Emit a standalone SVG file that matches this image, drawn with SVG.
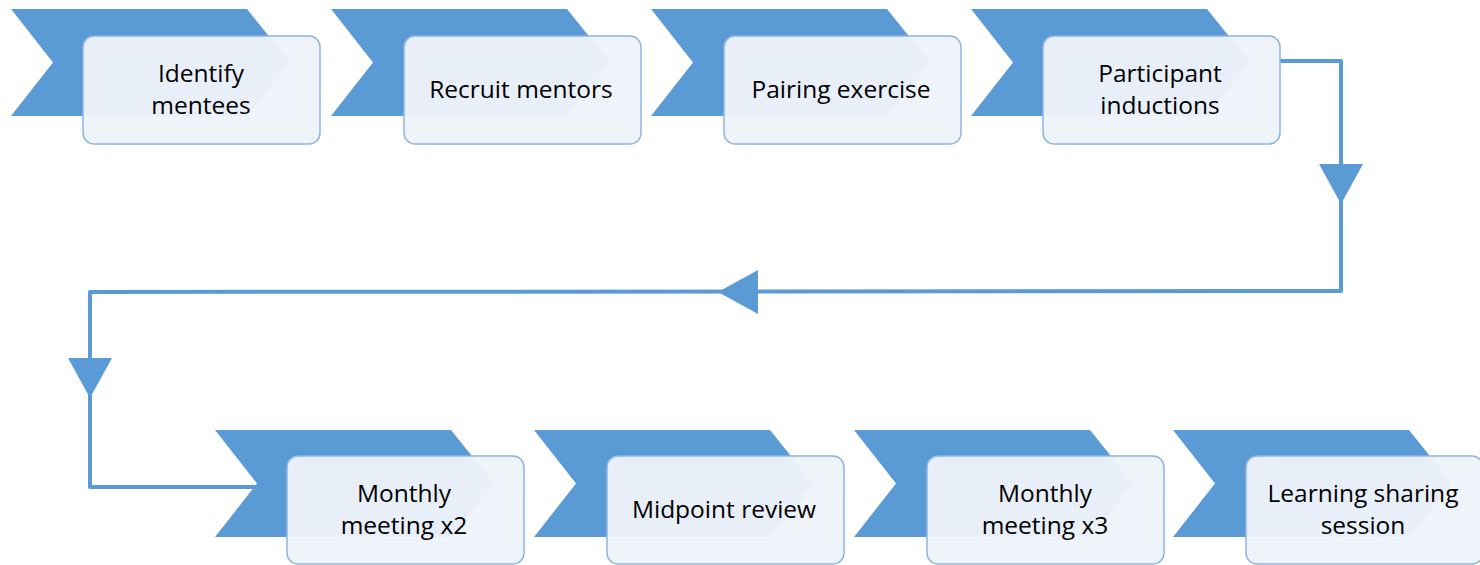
<svg xmlns="http://www.w3.org/2000/svg" xmlns:xlink="http://www.w3.org/1999/xlink" width="1480" height="565" viewBox="0 0 1480 565">
<style>
.chev{fill:#5B9BD5}
.box{fill:#EEF3FA;fill-opacity:0.96;stroke:#8DB5E2;stroke-width:1.5}
.lbl{font-family:"Open Sans","Liberation Sans",sans-serif;font-size:24.5px;fill:#000;text-anchor:middle}
.conn{fill:none;stroke:#5B9BD5;stroke-width:4;stroke-linejoin:round;stroke-linecap:round}
.arr{fill:#5B9BD5}
</style>
<defs>
<path id="chevron" d="M0,0 L236,0 L279,53.5 L236,107 L0,107 L42,53.5 Z"/>
<rect id="card" x="0" y="0" width="237" height="108" rx="11" ry="11"/>
<path id="arrowDown" d="M-22,0 L22,0 L0,40 Z"/>
</defs>
<rect width="1480" height="565" fill="#ffffff"/>
<g id="connectors">
<path class="conn" d="M1279,61 L1341,61 L1341,291 L90,292 L90,487 L255,487"/>
<use href="#arrowDown" class="arr" transform="translate(1341,164)"/>
<use href="#arrowDown" class="arr" transform="translate(758,292) rotate(90)"/>
<use href="#arrowDown" class="arr" transform="translate(90,358)"/>
</g>
<g id="n1">
<use href="#chevron" class="chev" transform="translate(11,9)"/>
<use href="#card" class="box" transform="translate(83,36)"/>
<text class="lbl" x="201" y="82">Identify</text>
<text class="lbl" x="201" y="114">mentees</text>
</g>
<g id="n2">
<use href="#chevron" class="chev" transform="translate(331,9)"/>
<use href="#card" class="box" transform="translate(404,36)"/>
<text class="lbl" x="521" y="98">Recruit mentors</text>
</g>
<g id="n3">
<use href="#chevron" class="chev" transform="translate(651,9)"/>
<use href="#card" class="box" transform="translate(724,36)"/>
<text class="lbl" x="841" y="98">Pairing exercise</text>
</g>
<g id="n4">
<use href="#chevron" class="chev" transform="translate(971,9)"/>
<use href="#card" class="box" transform="translate(1043,36)"/>
<text class="lbl" x="1160" y="82">Participant</text>
<text class="lbl" x="1160" y="114">inductions</text>
</g>
<g id="n5">
<use href="#chevron" class="chev" transform="translate(215,430)"/>
<use href="#card" class="box" transform="translate(287,456)"/>
<text class="lbl" x="404" y="502">Monthly</text>
<text class="lbl" x="404" y="534">meeting x2</text>
</g>
<g id="n6">
<use href="#chevron" class="chev" transform="translate(534,430)"/>
<use href="#card" class="box" transform="translate(607,456)"/>
<text class="lbl" x="724" y="518">Midpoint review</text>
</g>
<g id="n7">
<use href="#chevron" class="chev" transform="translate(854,430)"/>
<use href="#card" class="box" transform="translate(927,456)"/>
<text class="lbl" x="1045" y="502">Monthly</text>
<text class="lbl" x="1045" y="534">meeting x3</text>
</g>
<g id="n8">
<use href="#chevron" class="chev" transform="translate(1173,430)"/>
<use href="#card" class="box" transform="translate(1246,456)"/>
<text class="lbl" x="1363" y="502">Learning sharing</text>
<text class="lbl" x="1363" y="534">session</text>
</g>
</svg>
